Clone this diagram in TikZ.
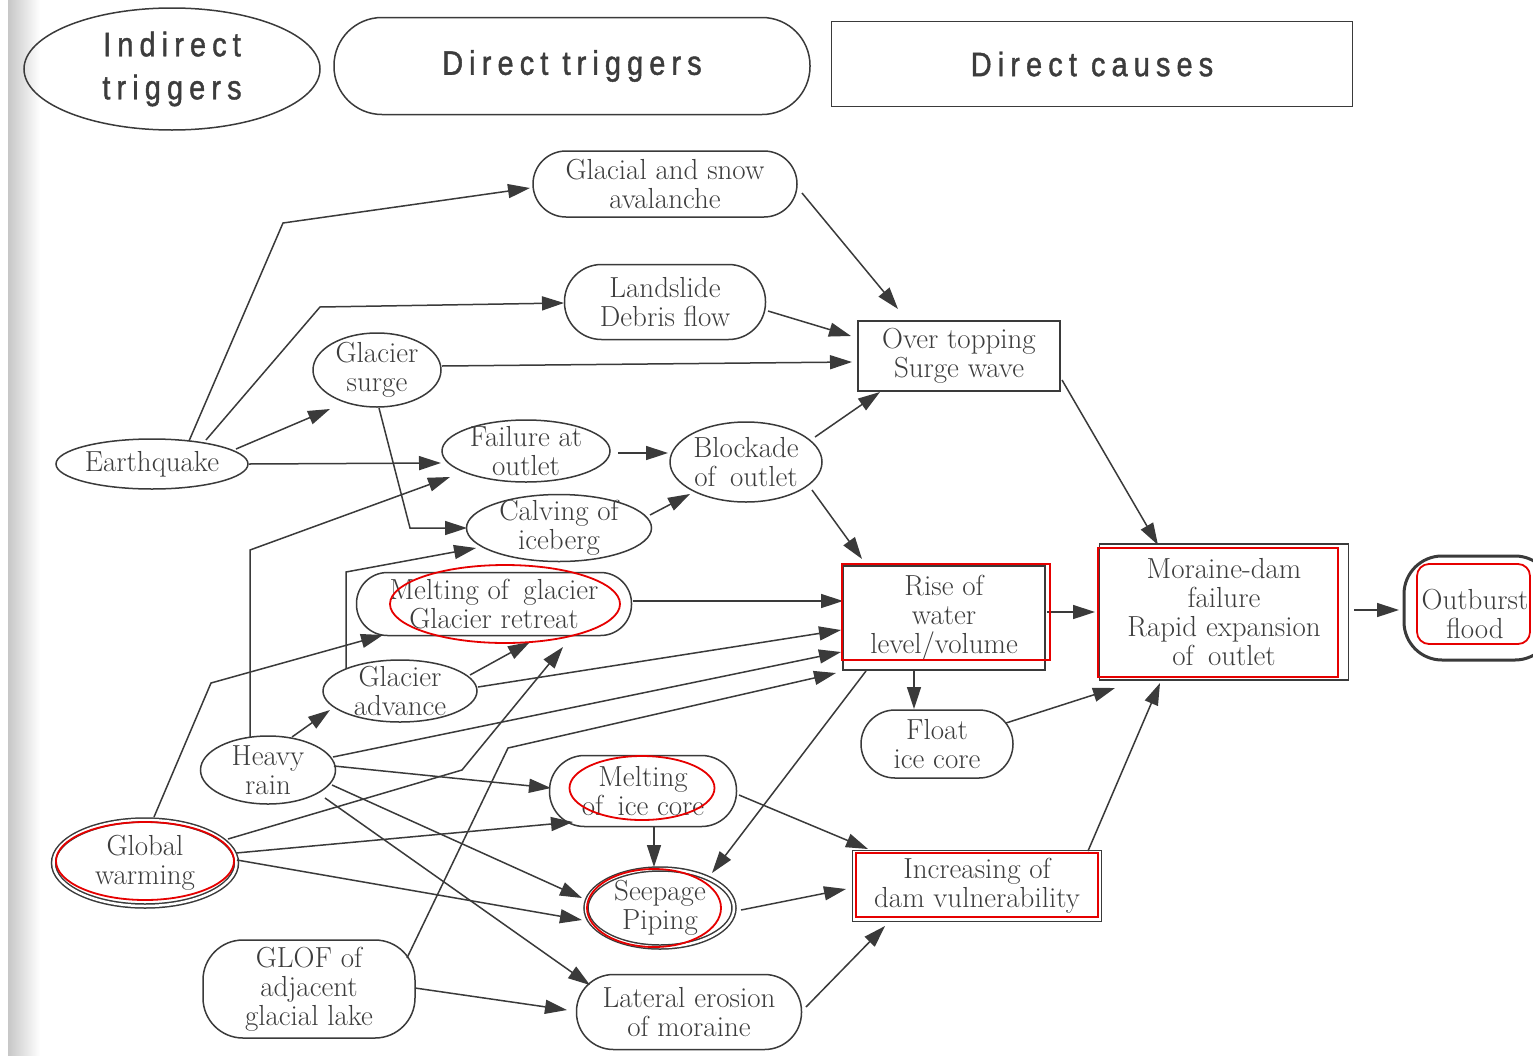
\documentclass[tikz,border=0pt]{standalone}
\usepackage{fontspec}
\newfontfamily\headfont[FakeStretch=0.85,LetterSpace=18,FakeBold=1.2]{Liberation Sans}
\usetikzlibrary{arrows.meta,calc,shapes.geometric}
\definecolor{ink}{HTML}{3A3A3A}
\definecolor{txtc}{HTML}{3C3C3C}
\definecolor{annot}{HTML}{E60000}
\tikzset{
  base/.style={draw=ink, line width=1.5pt, inner sep=0pt},
  sz/.style 2 args={minimum width=#1pt, minimum height=#2pt},
  oval/.style={base, ellipse},
  pill/.style={base, rectangle, rounded corners=#1pt},
  box/.style={base, rectangle},
  txt/.style={font=\fontsize{29}{29}\selectfont, text=txtc, align=center, inner sep=0pt},
  htxt/.style={font=\headfont\fontsize{34}{43}\selectfont, text=txtc, align=center, inner sep=0pt},
  t/.style={label={[txt]center:{#1}}},
  ht/.style={label={[htxt]center:{#1}}},
  ann/.style={draw=annot, line width=1.8pt, inner sep=0pt},
  conn/.style={draw=ink, line width=1.5pt, -{Triangle[length=22pt,width=14pt]}},
}
\begin{document}
\begin{tikzpicture}[x=1pt,y=-1pt]
\useasboundingbox (0,0) rectangle (1533,1055);
\fill[white] (0,0) rectangle (1533,1055);
\shade[left color=black!22, right color=white] (8,0) rectangle (40,1055);

% headers
\node[oval, sz={296}{122}, ht={Indirect\\triggers}] (hdr1) at (172,69) {};
\node[pill=48, sz={476}{97}, ht={Direct triggers}] (hdr2) at (572,66) {};
\node[box, sz={521}{85}, ht={Direct causes}] (hdr3) at (1092,64) {};

% nodes
\node[pill=33, sz={264}{66}, t={Glacial and snow\\avalanche}] (ava) at (665,184) {};
\node[pill=37, sz={201}{75}, t={Landslide\\Debris flow}] (lsd) at (665,302) {};
\node[box, sz={202}{70}, t={Over topping\\Surge wave}] (ovt) at (959,356) {};
\node[oval, sz={128}{74}, t={Glacier\\surge}] (gsu) at (377,370) {};
\node[oval, sz={192}{50}, t={Earthquake}] (eq) at (152,464) {};
\node[oval, sz={168}{62}, t={Failure at\\outlet}] (fao) at (526,451) {};
\node[oval, sz={152}{80}, t={Blockade\\of\enspace outlet}] (blk) at (746,462) {};
\node[oval, sz={185}{67}, t={Calving of\\iceberg}] (cal) at (559,528) {};
\node[pill=31, sz={275}{63}, t={Melting of\enspace glacier\\Glacier retreat}] (mgl) at (494,604) {};
\node[oval, sz={154}{62}, t={Glacier\\advance}] (gad) at (400,691) {};
\node[oval, sz={135}{68}, t={Heavy\\rain}] (hvy) at (268,770) {};
\node[oval, sz={183}{86}, double=white, double distance=2.5pt, t={Global\\warming}] (glw) at (145,863) {};
\node[pill=40, sz={212}{98}, t={GLOF of\\adjacent\\glacial lake}] (glof) at (309,989) {};
\node[box, sz={202}{104}, t={Rise of\\water\\level/volume}] (rise) at (944,618) {};
\node[box, sz={249}{136}, t={Moraine-dam\\failure\\Rapid expansion\\of\enspace outlet}] (mor) at (1224,612) {};
\node[base, rectangle, rounded corners=38pt, line width=3pt, sz={149}{104}] (out) at (1478.5,608) {};
\node[txt] (outt) at (1475,614) {Outburst\\flood};
\node[pill=34, sz={152}{68}, t={Float\\ice core}] (flt) at (937,744) {};
\node[pill=35, sz={187}{71}, t={Melting\\of\enspace ice core}] (mic) at (643,791) {};
\node[oval, sz={148}{78}, double=white, double distance=2.5pt, t={Seepage\\Piping}] (see) at (660,908) {};
\node[box, sz={249}{71}, t={Increasing of\\dam vulnerability}] (inc) at (977,886) {};
\node[pill=37, sz={225}{75}, t={Lateral erosion\\of moraine}] (lat) at (689,1012) {};

% bend points
\coordinate (b1) at (283,223);
\coordinate (b2) at (320,307);
\coordinate (b3) at (410,528);
\coordinate (b4) at (250,550);
\coordinate (b5) at (346,572);
\coordinate (b6) at (211,683);
\coordinate (b7) at (462,770);
\coordinate (b8) at (508,748);

% connectors
\draw[conn] ($(eq)+(37,-23)$) -- (b1) -- ($(ava)+(-135,4)$);
\draw[conn] ($(eq)+(54,-24)$) -- (b2) -- ($(lsd)+(-101,1)$);
\draw[conn] ($(eq)+(84,-15)$) -- ($(gsu)+(-47,39)$);
\draw[conn] ($(eq)+(97,0)$) -- ($(fao)+(-85,12)$);
\draw[conn] ($(gsu)+(65,-4)$) -- ($(ovt)+(-107,6)$);
\draw[conn] ($(gsu)+(2,38)$) -- (b3) -- ($(cal)+(-92,0)$);
\draw[conn] ($(hvy)+(-18,-33)$) -- (b4) -- ($(fao)+(-76,26)$);
\draw[conn] ($(gad)+(-54,-22)$) -- (b5) -- ($(cal)+(-83,20)$);
\draw[conn] ($(fao)+(92,2)$) -- ($(blk)+(-78,-9)$);
\draw[conn] ($(cal)+(91,-13)$) -- ($(blk)+(-56,32)$);
\draw[conn] ($(blk)+(69,-25)$) -- ($(ovt)+(-79,36)$);
\draw[conn] ($(blk)+(66,28)$) -- ($(rise)+(-82,-59)$);
\draw[conn] ($(ava)+(137,9)$) -- ($(ovt)+(-61,-47)$);
\draw[conn] ($(lsd)+(103,9)$) -- ($(ovt)+(-108,-20)$);
\draw[conn] ($(ovt)+(103,24)$) -- ($(mor)+(-66,-67)$);
\draw[conn] ($(mgl)+(139,-3)$) -- ($(rise)+(-101,-17)$);
\draw[conn] ($(glw)+(9,-46)$) -- (b6) -- ($(mgl)+(-111,31)$);
\draw[conn] ($(gad)+(70,-16)$) -- ($(mgl)+(36,38)$);
\draw[conn] ($(glw)+(83,-24)$) -- (b7) -- ($(mgl)+(69,43)$);
\draw[conn] ($(gad)+(78,-4)$) -- ($(rise)+(-103,12)$);
\draw[conn] ($(hvy)+(65,-13)$) -- ($(rise)+(-103,34)$);
\draw[conn] ($(glof)+(98,-31)$) -- (b8) -- ($(rise)+(-108,55)$);
\draw[conn] ($(rise)+(103,-6)$) -- ($(mor)+(-129,0)$);
\draw[conn] ($(rise)+(-30,53)$) -- ($(flt)+(-23,-35)$);
\draw[conn] ($(rise)+(-78,53)$) -- ($(see)+(52,-35)$);
\draw[conn] ($(flt)+(69,-21)$) -- ($(mor)+(-109,76)$);
\draw[conn] ($(inc)+(111,-35)$) -- ($(mor)+(-64,71)$);
\draw[conn] ($(mor)+(130,-2)$) -- ($(out)+(-79.5,2)$);
\draw[conn] ($(hvy)+(66,-4)$) -- ($(mic)+(-92,-3)$);
\draw[conn] ($(glw)+(91,-10)$) -- ($(mic)+(-70,31)$);
\draw[conn] ($(hvy)+(64,15)$) -- ($(see)+(-78,-10)$);
\draw[conn] ($(glw)+(92,-3)$) -- ($(see)+(-78,12)$);
\draw[conn] ($(hvy)+(57,28)$) -- ($(lat)+(-99,-27)$);
\draw[conn] ($(glof)+(106,-1)$) -- ($(lat)+(-122,-2)$);
\draw[conn] ($(mic)+(11,36)$) -- ($(see)+(-6,-41)$);
\draw[conn] ($(mic)+(96,4)$) -- ($(inc)+(-109,-37)$);
\draw[conn] ($(see)+(81,2)$) -- ($(inc)+(-131,3)$);
\draw[conn] ($(lat)+(117,-5)$) -- ($(inc)+(-92,40)$);
\draw[conn] ($(hvy)+(24,-33)$) -- ($(gad)+(-70,19)$);

% red annotations
\node[ann, ellipse, sz={230}{78}] (ra1) at (505,604) {};
\node[ann, rectangle, sz={208}{96}] (ra2) at (946,612) {};
\node[ann, rectangle, sz={240}{129}] (ra3) at (1218,612.5) {};
\node[ann, rectangle, rounded corners=12pt, sz={113}{80}] (ra4) at (1473.5,604) {};
\node[ann, ellipse, sz={145}{64}] (ra5) at (642,788) {};
\node[ann, ellipse, sz={134}{78}] (ra6) at (654,908) {};
\node[ann, rectangle, sz={242}{64}] (ra7) at (977,885) {};
\node[ann, ellipse, sz={178}{78}] (ra8) at (145,861) {};
\end{tikzpicture}
\end{document}
